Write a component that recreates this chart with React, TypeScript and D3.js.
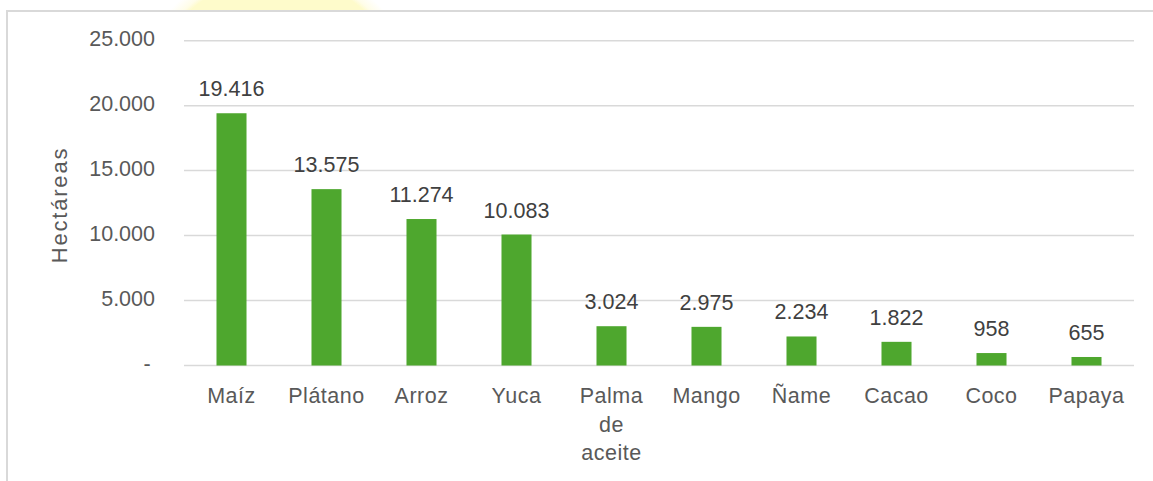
import React from "react";
import * as d3 from "d3";

const categories = ["Maíz", "Plátano", "Arroz", "Yuca", "Palma de aceite", "Mango", "Ñame", "Cacao", "Coco", "Papaya"];
const values = [19416, 13575, 11274, 10083, 3024, 2975, 2234, 1822, 958, 655];
const yTicks = [0, 5000, 10000, 15000, 20000, 25000];
const yTitle = "Hectáreas";

const W = 1153;
const H = 481;
const plot = { left: 184, right: 1134, top: 40.7, bottom: 365.5 };
const FONT = "'Liberation Sans', Arial, sans-serif";

const fmt = (v: number) => (v === 0 ? "-" : d3.format(",")(v).replace(/,/g, "."));

function wrapLabel(s: string): string[] {
  return s.split(" ");
}

export default function App() {
  const x = d3.scaleBand<string>().domain(categories).range([plot.left, plot.right]).paddingInner(0.684).paddingOuter(0.342);
  const y = d3.scaleLinear().domain([0, 25000]).range([plot.bottom, plot.top]);
  const bw = x.bandwidth();

  return (
    <svg width={W} height={H} style={{ position: "absolute", left: 0, top: 0, background: "#fff" }}>
      <defs>
        <clipPath id="topClip">
          <rect x={0} y={0} width={W} height={11} />
        </clipPath>
        <radialGradient id="glow" cx="50%" cy="50%" r="50%">
          <stop offset="90%" stopColor="#fefbcb" />
          <stop offset="93%" stopColor="#fffde8" />
          <stop offset="100%" stopColor="#ffffff" />
        </radialGradient>
      </defs>
      <g clipPath="url(#topClip)">
        <circle cx={277} cy={108} r={145} fill="url(#glow)" />
      </g>
      {/* frame */}
      <line x1={7} x2={W} y1={11} y2={11} stroke="#d9d9d9" strokeWidth={2} />
      <line x1={7} x2={7} y1={10} y2={H} stroke="#d9d9d9" strokeWidth={2} />

      {/* gridlines */}
      {yTicks.map((t) => (
        <line key={t} x1={plot.left} x2={plot.right} y1={y(t)} y2={y(t)} stroke="#d9d9d9" strokeWidth={1.5} />
      ))}
      {/* y tick labels */}
      {yTicks.map((t) => (
        <text
          key={"l" + t}
          x={t === 0 ? 147 : 155}
          y={y(t)}
          textAnchor={t === 0 ? "middle" : "end"}
          dominantBaseline="middle"
          fontFamily={FONT}
          fontSize={21.5}
          fill="#595959"
        >
          {fmt(t)}
        </text>
      ))}
      {/* axis title */}
      <text
        transform={`translate(67,205) rotate(-90)`}
        textAnchor="middle"
        fontFamily={FONT}
        fontSize={22}
        letterSpacing={1.8}
        fill="#595959"
      >
        {yTitle}
      </text>

      {/* bars */}
      {categories.map((c, i) => (
        <rect key={c} x={x(c)!} y={y(values[i])} width={bw} height={y(0) - y(values[i])} fill="#4ea72e" />
      ))}
      {/* value labels */}
      {categories.map((c, i) => (
        <text
          key={"v" + c}
          x={x(c)! + bw / 2}
          y={y(values[i]) - 17}
          textAnchor="middle"
          fontFamily={FONT}
          fontSize={21.5}
          fill="#404040"
        >
          {fmt(values[i])}
        </text>
      ))}
      {/* category labels */}
      {categories.map((c) => (
        <text
          key={"c" + c}
          x={x(c)! + bw / 2}
          y={403}
          textAnchor="middle"
          fontFamily={FONT}
          fontSize={21.5}
          letterSpacing={0.5}
          fill="#595959"
        >
          {wrapLabel(c).length > 2
            ? wrapLabel(c).map((w, j) => (
                <tspan key={j} x={x(c)! + bw / 2} dy={j === 0 ? 0 : 28.5}>
                  {w}
                </tspan>
              ))
            : c}
        </text>
      ))}
    </svg>
  );
}
